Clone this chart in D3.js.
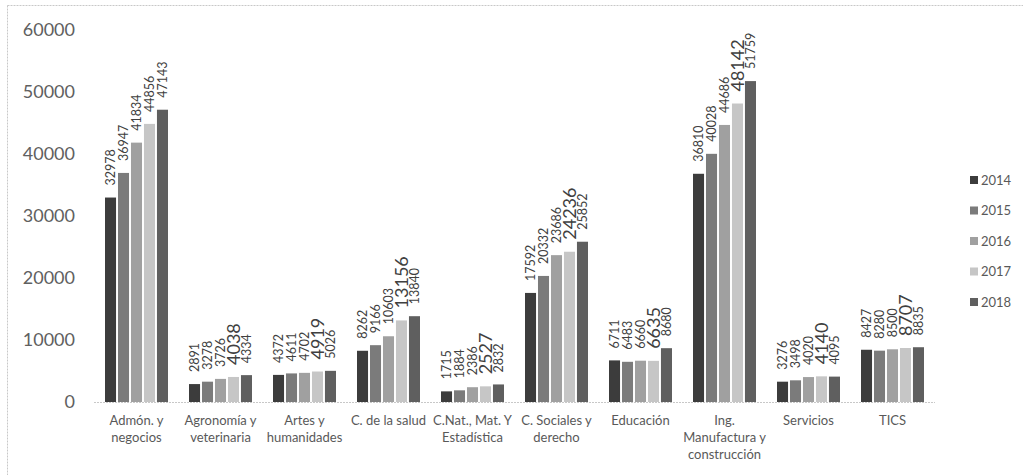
<!DOCTYPE html>
<html>
<head>
<meta charset="utf-8">
<script src="https://cdn.jsdelivr.net/npm/d3@7/dist/d3.min.js"></script>
<style>
  html, body { margin: 0; padding: 0; background: #fff; }
  svg { display: block; font-family: Lato, "Open Sans", sans-serif; }
</style>
</head>
<body>
<svg id="chart" width="1023" height="475"></svg>
<script>
const categories = [
  ["Admón. y", "negocios"],
  ["Agronomía y", "veterinaria"],
  ["Artes y", "humanidades"],
  ["C. de la salud"],
  ["C.Nat., Mat. Y", "Estadística"],
  ["C. Sociales y", "derecho"],
  ["Educación"],
  ["Ing.", "Manufactura y", "construcción"],
  ["Servicios"],
  ["TICS"]
];
const years = ["2014", "2015", "2016", "2017", "2018"];
const v2014 = [32978, 2891, 4372, 8262, 1715, 17592, 6711, 36810, 3276, 8427];
const v2015 = [36947, 3278, 4611, 9166, 1884, 20332, 6483, 40028, 3498, 8280];
const v2016 = [41834, 3726, 4702, 10603, 2386, 23686, 6660, 44686, 4020, 8500];
const v2017 = [44856, 4038, 4919, 13156, 2527, 24236, 6635, 48142, 4140, 8707];
const v2018 = [47143, 4334, 5026, 13840, 2832, 25852, 8680, 51759, 4095, 8835];
const yTicks = [0, 10000, 20000, 30000, 40000, 50000, 60000];

const series = [v2014, v2015, v2016, v2017, v2018];
const colors = ["#3c3c3c", "#7b7b7b", "#a0a0a0", "#c6c6c6", "#5f5f5f"];

const svg = d3.select("#chart");

// outer dotted frame
svg.append("rect")
  .attr("x", 7.5).attr("y", 5.5).attr("width", 1030).attr("height", 480)
  .attr("fill", "none").attr("stroke", "#c8c8c8").attr("stroke-dasharray", "2,1");

const x0 = d3.scaleBand().domain(d3.range(categories.length)).range([94.5, 934.5]).paddingInner(0.25).paddingOuter(0.125);
const x1 = d3.scaleBand().domain(years).range([0, x0.bandwidth()]).paddingInner(0.15);
const y = d3.scaleLinear().domain([0, 60000]).range([402, 30]);

// y axis labels
const yAxis = d3.axisLeft(y).tickValues(yTicks).tickSize(0).tickPadding(0).tickFormat(d3.format("d"));
const ya = svg.append("g").attr("transform", "translate(75,0)").call(yAxis);
ya.select(".domain").remove();
ya.selectAll("text").attr("font-size", 18).attr("fill", "#606060").attr("font-family", "Lato, sans-serif");

// baseline
svg.append("line")
  .attr("x1", 94).attr("x2", 935).attr("y1", y(0) + 0.5).attr("y2", y(0) + 0.5)
  .attr("stroke", "#c8c8c8").attr("stroke-dasharray", "2,1");

// bars
const groups = svg.append("g").selectAll("g")
  .data(categories.map((c, i) => i))
  .join("g")
  .attr("transform", i => `translate(${x0(i)},0)`);

groups.selectAll("rect")
  .data(i => years.map((yr, k) => ({ yr, k, i, v: series[k][i] })))
  .join("rect")
  .attr("x", d => x1(d.yr))
  .attr("width", x1.bandwidth())
  .attr("y", d => y(d.v))
  .attr("height", d => y(0) - y(d.v))
  .attr("fill", d => colors[d.k]);

// value labels
groups.selectAll("text.val")
  .data(i => years.map((yr, k) => ({ yr, k, i, v: series[k][i] })))
  .join("text")
  .attr("class", "val")
  .attr("transform", d => `translate(${x1(d.yr) + x1.bandwidth() / 2},${y(d.v) - 12}) rotate(-90)`)
  .attr("text-anchor", "start")
  .attr("dy", "0.35em")
  .attr("font-size", d => (d.yr === "2017" && d.i > 0) ? 18 : 12.5)
  .attr("fill", "#404040")
  .text(d => d.v);

// category labels
const xa = svg.append("g");
categories.forEach((lines, i) => {
  const t = xa.append("text")
    .attr("x", x0(i) + x0.bandwidth() / 2)
    .attr("y", 425)
    .attr("text-anchor", "middle")
    .attr("font-size", 13)
    .attr("fill", "#595959");
  lines.forEach((ln, j) => {
    t.append("tspan").attr("x", x0(i) + x0.bandwidth() / 2).attr("dy", j === 0 ? 0 : 17).text(ln);
  });
});

// legend
const lg = svg.append("g").attr("transform", "translate(970,180)");
years.forEach((yr, k) => {
  const g = lg.append("g").attr("transform", `translate(0,${k * 30.5})`);
  g.append("rect").attr("x", 0).attr("y", -4).attr("width", 8).attr("height", 8).attr("fill", colors[k]);
  g.append("text").attr("x", 11).attr("y", 0).attr("dy", "0.35em")
    .attr("font-size", 13).attr("fill", "#595959").text(yr);
});
</script>
</body>
</html>
